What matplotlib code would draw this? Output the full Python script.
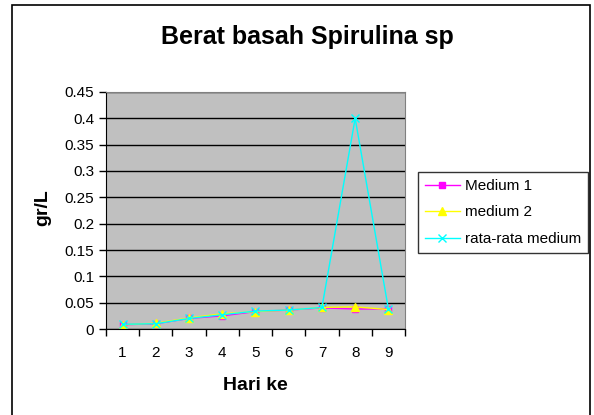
import matplotlib
matplotlib.use("Agg")
from matplotlib import pyplot as plt
from matplotlib.patches import Rectangle

# data
hari = [1, 2, 3, 4, 5, 6, 7, 8, 9]
medium1 = [0.008, 0.010, 0.020, 0.025, 0.033, 0.036, 0.040, 0.038, 0.038]
medium2 = [0.008, 0.011, 0.021, 0.029, 0.033, 0.036, 0.041, 0.042, 0.037]
rata_rata = [0.009, 0.010, 0.020, 0.027, 0.034, 0.036, 0.041, 0.400, 0.038]
y_ticks = [0, 0.05, 0.1, 0.15, 0.2, 0.25, 0.3, 0.35, 0.4, 0.45]
y_labels = ["0", "0.05", "0.1", "0.15", "0.2", "0.25", "0.3", "0.35", "0.4", "0.45"]

plt.rcParams["font.family"] = ["Liberation Sans", "DejaVu Sans"]

fig = plt.figure(figsize=(5.94, 4.15), dpi=100)
W, H = 594, 415

# outer chart border
fig.patches.append(Rectangle((12 / W, -0.05), (590 - 12) / W, 1.05 - 5 / H,
                             transform=fig.transFigure, fill=False,
                             edgecolor="black", linewidth=1.2))

ax = fig.add_axes([106 / W, (H - 329) / H, 299 / W, 237 / H])
ax.set_facecolor("#C0C0C0")

ax.plot(hari, medium1, color="#FF00FF", marker="s", markersize=5, linewidth=1, label="Medium 1")
ax.plot(hari, medium2, color="#FFFF00", marker="^", markersize=6, linewidth=1, label="medium 2")
ax.plot(hari, rata_rata, color="#00FFFF", marker="x", markersize=6, markeredgewidth=1, linewidth=1,
        label="rata-rata medium")

ax.set_xlim(0.5, 9.5)
ax.set_ylim(0, 0.45)
ax.set_yticks(y_ticks)
ax.set_yticklabels(y_labels)
ax.set_xticks([x + 0.5 for x in range(0, 10)])
ax.set_xticklabels([])
ax.set_xticks(hari, minor=True)
ax.set_xticklabels([str(h) for h in hari], minor=True)
ax.tick_params(axis="x", which="major", direction="out", length=5, width=1)
ax.tick_params(axis="x", which="minor", length=0, pad=12, labelsize=11)
ax.tick_params(axis="y", direction="out", length=5, width=1, labelsize=11)

ax.grid(axis="y", color="black", linewidth=1)
ax.set_axisbelow(True)
for s in ["top", "right"]:
    ax.spines[s].set_color("#808080")
for s in ["left", "bottom"]:
    ax.spines[s].set_color("black")

fig.text(43 / W, 1 - 208 / H, "gr/L", rotation=90, ha="center", va="center",
         fontsize=14, fontweight="bold")
fig.text(255 / W, 1 - 385 / H, "Hari ke", ha="center", va="center",
         fontsize=14, fontweight="bold")
fig.text(307 / W, 1 - 37 / H, "Berat basah Spirulina sp", ha="center", va="center",
         fontsize=18, fontweight="bold")

leg = fig.legend(loc="upper left", bbox_to_anchor=(418 / W, 1 - 172 / H), fontsize=11,
                 frameon=True, fancybox=False, edgecolor="black", borderaxespad=0,
                 handlelength=2.3, labelspacing=0.82, borderpad=0.45, handletextpad=0.3)
leg.get_frame().set_linewidth(1)

fig.savefig("out.png", dpi=100)
